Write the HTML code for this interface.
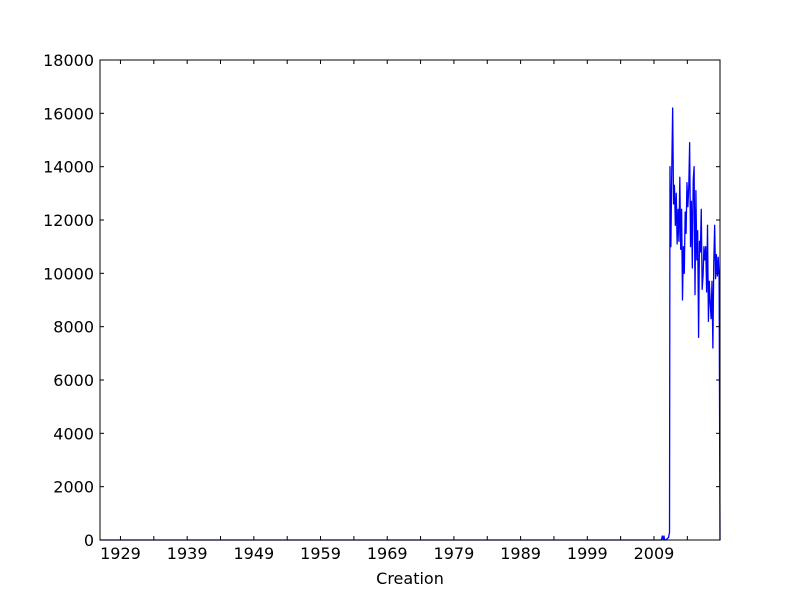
<!DOCTYPE html>
<html><head><meta charset="utf-8"><style>
body{margin:0;background:#fff;}
svg text{font-family:"DejaVu Sans","Liberation Sans",sans-serif;font-size:16px;fill:#000;}
</style></head><body>
<svg id="chart" width="800" height="600">
<rect x="0" y="0" width="800" height="600" fill="#fff"/>
<g id="plot"></g>
<text x="410" y="584" text-anchor="middle">Creation</text>
</svg>
<script>
const yTicks = [0,2000,4000,6000,8000,10000,12000,14000,16000,18000];
const xTickLabels = [1929,1939,1949,1959,1969,1979,1989,1999,2009];
const preYears = [1925.93, 2010.1, 2010.25, 2010.4, 2010.5, 2010.6, 2010.75, 2011.0, 2011.2, 2011.33];
const preValues = [0, 0, 150, 0, 150, 0, 0, 50, 100, 300];
const mainStart = 2011.4;
const mainStep = 0.134;
const mainValues = [14000,11000,13900,16200,12600,13300,11800,13000,11100,12400,11200,13600,10900,12400,9000,11000,10000,12300,11500,13400,12500,13200,14900,11000,12700,10200,13500,14000,9200,13100,10500,11600,7600,11200,10800,12400,9400,9900,11000,10500,11000,9300,11800,8200,9700,8900,8300,9700,7200,10400,11800,9800,10700,9900,10600,9800];
const endYear = 2018.9;

const X0=100,X1=720,Y0=540,Y1=60;
const xMin=1925.93,xMax=2018.9,yMin=0,yMax=18000;
const xs=v=>X0+(v-xMin)/(xMax-xMin)*(X1-X0);
const ys=v=>Y0-(v-yMin)/(yMax-yMin)*(Y0-Y1);
const NS='http://www.w3.org/2000/svg';
const plot=document.getElementById('plot');
function mk(t,a){const e=document.createElementNS(NS,t);for(const k in a)e.setAttribute(k,a[k]);plot.appendChild(e);return e;}

// series
const pts=[];
preYears.forEach((y,i)=>pts.push([xs(y),ys(preValues[i])]));
mainValues.forEach((v,i)=>pts.push([xs(mainStart+i*mainStep),ys(v)]));
pts.push([xs(endYear),ys(0)]);
const line=mk('polyline',{points:pts.map(p=>p[0].toFixed(2)+','+p[1].toFixed(2)).join(' '),fill:'none',stroke:'#0000ff','stroke-width':1.3,'stroke-linejoin':'round'});



// y ticks
yTicks.forEach(v=>{
  const y=ys(v);
  const t1=mk('line',{x1:X0,x2:X0+4,y1:y,y2:y,stroke:'#000'});
  
  
  const t2=mk('line',{x1:X1,x2:X1-4,y1:y,y2:y,stroke:'#000'});
  
  
  const tx=mk('text',{x:X0-6,y:y+6,'text-anchor':'end'});
  tx.textContent=v;
  
  
});
// x ticks (every 5 years, labels every 10)
for(let yr=xTickLabels[0]; yr<xMax; yr+=5){
  const x=xs(yr);
  const t1=mk('line',{x1:x,x2:x,y1:Y0,y2:Y0-4,stroke:'#000'});
  
  
  const t2=mk('line',{x1:x,x2:x,y1:Y1,y2:Y1+4,stroke:'#000'});
  
  
}
xTickLabels.forEach(v=>{
  const tx=mk('text',{x:xs(v),y:Y0+19,'text-anchor':'middle'});
  tx.textContent=v;
  
  
});
const frame=mk('rect',{x:X0,y:Y1,width:X1-X0,height:Y0-Y1,fill:'none',stroke:'#000','stroke-width':1});


</script>
</body></html>
